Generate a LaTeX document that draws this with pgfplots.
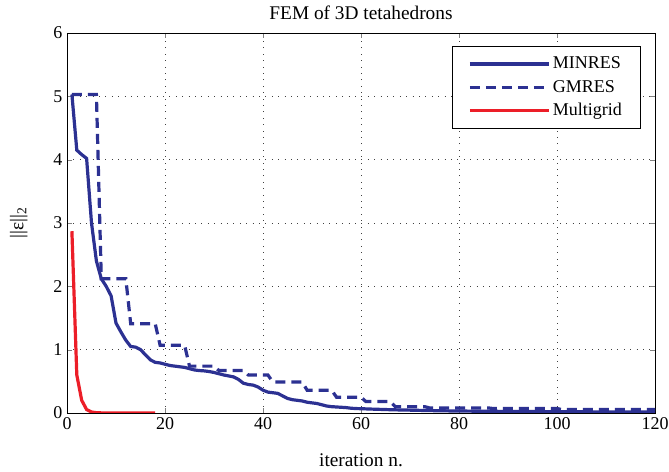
\documentclass[border=0pt]{standalone}
\usepackage{fontspec}
\setmainfont{Liberation Serif}
\usepackage{pgfplots}
\pgfplotsset{compat=1.18}
\definecolor{mblue}{RGB}{44,49,146}
\definecolor{mred}{RGB}{236,30,40}

\begin{document}
\begin{tikzpicture}
\begin{axis}[
  scale only axis, width=441pt, height=285pt,
  xmin=0, xmax=120, ymin=0, ymax=6,
  xtick={0,20,...,120}, ytick={0,1,...,6},
  /pgf/number format/assume math mode=true,
  tick label style={font=\fontsize{13.5}{15}\selectfont},
  label style={font=\fontsize{14.5}{16}\selectfont},
  title style={font=\fontsize{14.5}{16}\selectfont, at={(rel axis cs:0.5,1.032)}, anchor=center},
  title={FEM of 3D tetahedrons},
  xlabel={iteration n.},
  ylabel={||ε||\textsubscript{2}},
  ylabel style={at={(rel axis cs:-0.082,0.5)}, anchor=center, rotate=0},
  xlabel style={at={(rel axis cs:0.5,-0.125)}, anchor=center},
  grid=major,
  major grid style={dash pattern=on 0.6pt off 4.2pt, black!75, line width=0.6pt},
  tick align=inside, tick pos=both,
  major tick length=4pt,
  axis line style={line width=0.6pt},
  legend style={at={(rel axis cs:0.976,0.966)}, anchor=north east,
    font=\fontsize{13.5}{15}\selectfont, draw=black, line width=0.6pt,
    row sep=3pt, inner xsep=12pt, inner ysep=6pt},
  legend cell align=left,
  legend image code/.code={\draw[#1] (0cm,0cm) -- (59pt,0cm);},
]
\addplot[mblue, line width=2.4pt] coordinates {
(1,5.03) (2,4.15) (3,4.08) (4,4.02) (5,3.0) (6,2.4) (7,2.12) (8,2.0) (9,1.85)
(10,1.42) (11,1.28) (12,1.15) (13,1.05) (14,1.04) (15,1.00) (16,0.92) (17,0.84)
(18,0.80) (19,0.79) (20,0.77) (21,0.75) (22,0.74) (23,0.73) (24,0.72) (25,0.70)
(26,0.68) (27,0.67) (28,0.665) (29,0.655) (30,0.64) (31,0.62) (32,0.60) (33,0.585)
(34,0.57) (35,0.53) (36,0.47) (37,0.45) (38,0.44) (39,0.41) (40,0.36) (41,0.33)
(42,0.32) (43,0.31) (44,0.27) (45,0.23) (46,0.21) (47,0.20) (48,0.19) (49,0.17)
(50,0.16) (51,0.15) (52,0.13) (53,0.11) (54,0.10) (55,0.095) (56,0.09) (57,0.085)
(58,0.075) (59,0.07) (60,0.068) (62,0.062) (64,0.057) (66,0.052) (68,0.048)
(70,0.045) (74,0.038) (78,0.033) (84,0.028) (90,0.025) (100,0.02) (110,0.017) (120,0.015)
};
\addlegendentry{MINRES}
\addplot[mblue, line width=2.4pt, dash pattern=on 7.5pt off 4.5pt] coordinates {
(1,5.03) (6,5.03) (7,2.12) (12,2.12) (13,1.41) (18,1.41) (19,1.07) (24,1.07)
(25,0.74) (30,0.74) (31,0.67) (36,0.67) (37,0.60) (41,0.60) (42,0.49) (48,0.49)
(49,0.36) (54,0.36) (55,0.25) (60,0.25) (61,0.18) (66,0.18) (67,0.10) (73,0.10)
(74,0.08) (86,0.08) (87,0.07) (100,0.07) (101,0.055) (120,0.055)
};
\addlegendentry{GMRES}
\addplot[mred, line width=2.4pt] coordinates {
(1,2.87) (2,0.60) (3,0.20) (4,0.055) (5,0.016) (6,0.005) (7,0.002) (8,0.001)
(10,0.0005) (14,0.0002) (18,0.0001)
};
\addlegendentry{Multigrid}
\coordinate (bl) at (rel axis cs:-0.11395,-0.15526);
\coordinate (tr) at (rel axis cs:1.02381,1.08684);
\end{axis}
\pgfresetboundingbox
\path[use as bounding box] (bl) rectangle (tr);
\end{tikzpicture}
\end{document}
